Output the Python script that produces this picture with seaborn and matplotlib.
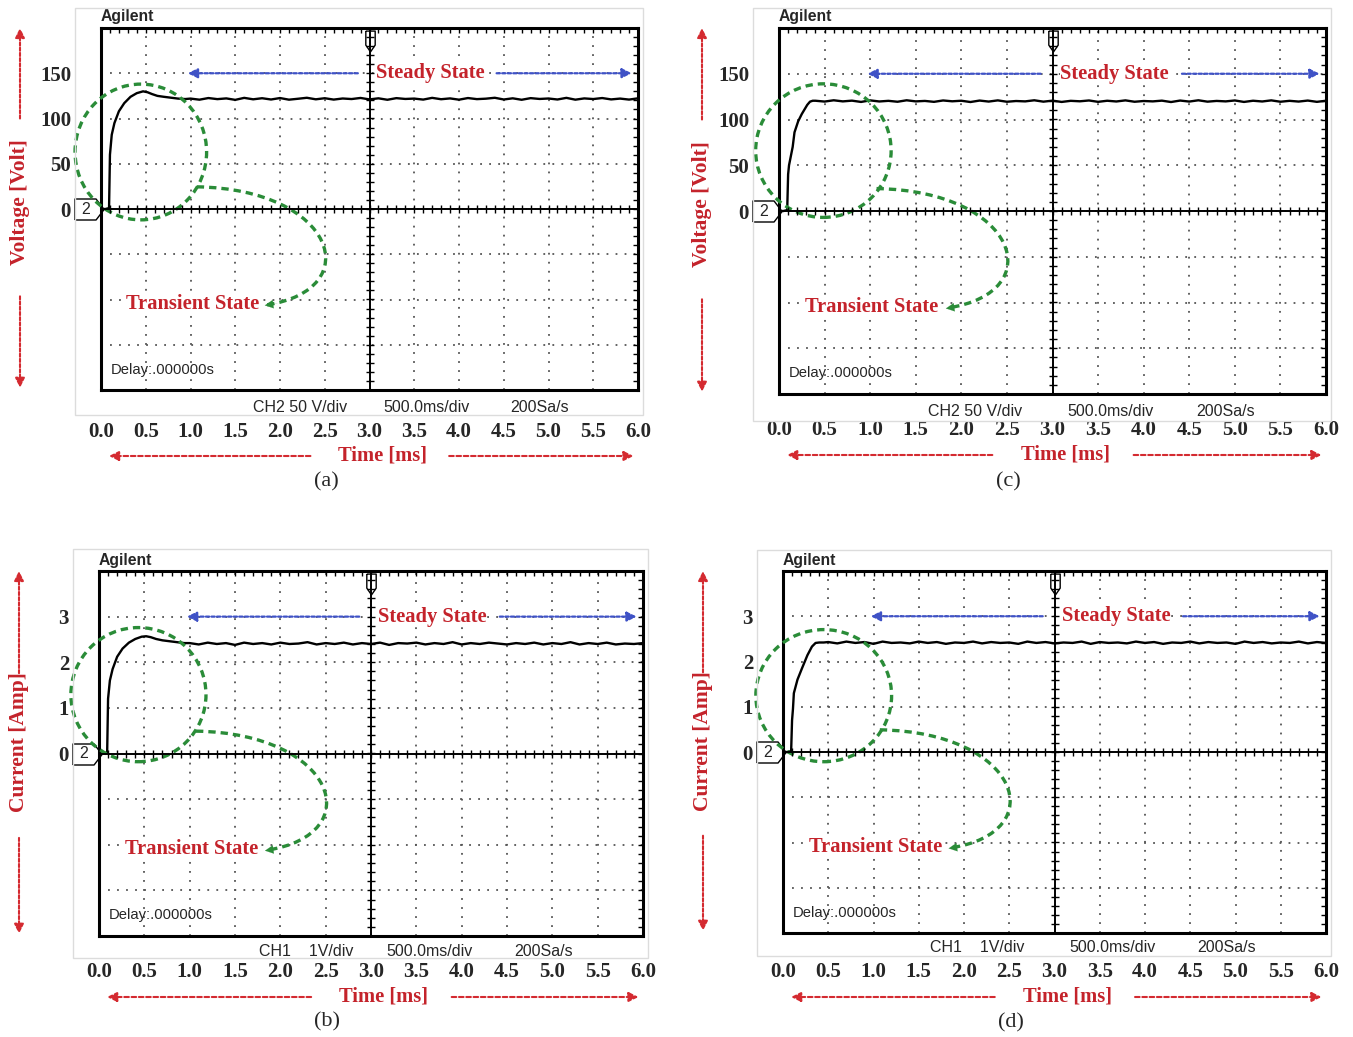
"""
Oscilloscope captures of the start-up transient: voltage (a, c) and current (b, d)
"""

import numpy as np
import pandas as pd
import matplotlib
matplotlib.use("Agg")
import matplotlib.pyplot as plt
import seaborn as sns
from matplotlib.patches import Ellipse, Rectangle, PathPatch
from matplotlib.path import Path
from matplotlib.transforms import offset_copy

W, H = 1353, 1037

time_ticks = [0.0, 0.5, 1.0, 1.5, 2.0, 2.5, 3.0, 3.5, 4.0, 4.5, 5.0, 5.5, 6.0]
time_labels = ['0.0', '0.5', '1.0', '1.5', '2.0', '2.5', '3.0', '3.5', '4.0',
               '4.5', '5.0', '5.5', '6.0']
volt_labels = ['', '', '', '0', '50', '100', '150']
amp_labels = ['', '', '', '0', '1', '2', '3']

# (a) voltage [V]
a_t = [0.00, 0.05, 0.09, 0.10, 0.12, 0.15, 0.20, 0.26, 0.33, 0.40, 0.47, 0.52,
       0.57, 0.63, 0.70, 0.78, 0.86, 0.94]
a_v = [0, 0, 1, 60, 82, 95, 108, 117, 124, 128, 130, 129, 127, 125, 124, 123, 122, 121.5]
a_steady_t0 = 1.0
a_steady = [122.0, 120.8, 122.6, 121.4, 122.2, 120.6, 122.8, 121.2, 122.4, 121.0,
            122.6, 120.8, 121.8, 122.9, 121.2, 122.4, 120.9, 122.1, 121.5, 122.7,
            121.1, 122.3, 120.7, 122.5, 121.6, 122.0, 120.9, 122.8, 121.3, 122.2,
            120.8, 122.6, 121.4, 121.9, 122.9, 121.0, 122.3, 120.7, 122.5, 121.6,
            122.1, 121.0, 122.8, 120.8, 122.2, 121.5, 122.6, 121.1, 122.0, 120.9,
            122.3]

# (b) current [A]
b_t = [0.00, 0.05, 0.09, 0.10, 0.12, 0.15, 0.20, 0.26, 0.33, 0.40, 0.47, 0.52,
       0.57, 0.63, 0.70, 0.78, 0.86, 0.94]
b_i = [0, 0, 0.02, 1.2, 1.6, 1.85, 2.12, 2.3, 2.43, 2.51, 2.56, 2.57, 2.55, 2.51,
       2.48, 2.46, 2.44, 2.42]
b_steady_t0 = 1.0
b_steady = [2.42, 2.39, 2.43, 2.40, 2.42, 2.38, 2.43, 2.40, 2.42, 2.39,
            2.43, 2.40, 2.41, 2.44, 2.39, 2.42, 2.40, 2.43, 2.39, 2.42,
            2.40, 2.43, 2.38, 2.42, 2.41, 2.43, 2.39, 2.42, 2.40, 2.44,
            2.39, 2.42, 2.40, 2.43, 2.41, 2.39, 2.42, 2.40, 2.43, 2.39,
            2.42, 2.40, 2.44, 2.39, 2.42, 2.40, 2.43, 2.39, 2.41, 2.40,
            2.42]

# (c) voltage [V]
c_t = [0.00, 0.05, 0.09, 0.10, 0.11, 0.13, 0.15, 0.17, 0.21, 0.25, 0.28, 0.31,
       0.34, 0.37]
c_v = [0, 0, 1, 40, 50, 60, 70, 86, 98, 106, 111, 116, 119.5, 120.5]
c_steady_t0 = 0.4
c_steady = [120.5, 119.6, 121.0, 119.8, 120.6, 119.2, 120.9, 119.7, 120.4, 119.4,
            121.0, 119.8, 120.3, 119.3, 120.8, 119.9, 120.5, 119.1, 120.7, 119.6,
            120.9, 119.4, 120.2, 119.8, 121.0, 119.5, 120.6, 119.2, 120.4, 119.9,
            120.8, 119.3, 120.5, 119.7, 120.9, 119.4, 120.2, 119.8, 120.6, 119.1,
            120.7, 119.6, 121.0, 119.5, 120.3, 119.8, 120.8, 119.2, 120.5, 119.7,
            120.9, 119.4, 120.4, 119.6, 120.7, 119.3, 120.5]

# (d) current [A]
d_t = [0.00, 0.05, 0.09, 0.10, 0.11, 0.12, 0.16, 0.21, 0.27, 0.32, 0.36, 0.40, 0.45]
d_i = [0, 0, 0.02, 0.7, 0.95, 1.3, 1.6, 1.85, 2.14, 2.33, 2.41, 2.42, 2.42]
d_steady_t0 = 0.5
d_steady = [2.43, 2.40, 2.44, 2.41, 2.43, 2.39, 2.44, 2.41, 2.42, 2.40,
            2.44, 2.41, 2.43, 2.39, 2.42, 2.41, 2.44, 2.40, 2.43, 2.41,
            2.42, 2.39, 2.44, 2.41, 2.43, 2.40, 2.42, 2.41, 2.44, 2.39,
            2.43, 2.41, 2.42, 2.40, 2.44, 2.41, 2.43, 2.39, 2.42, 2.41,
            2.44, 2.40, 2.43, 2.41, 2.42, 2.39, 2.44, 2.41, 2.43, 2.40,
            2.42, 2.41, 2.44, 2.40, 2.43, 2.41]

RED = '#c4232b'
RED_ARROW = '#d42a30'
BLUE = '#3f52c6'
GREEN = '#2a8c38'


def trace(t, vals, t0, steady):
    ts = list(t) + list(np.round(t0 + 0.1 * np.arange(len(steady)), 3))
    return pd.DataFrame({'t': ts, 'y': list(vals) + list(steady)})


panels = [
    dict(key='a', box=(101, 28, 638, 390), frame=(75, 8, 643, 415),
         df=trace(a_t, a_v, a_steady_t0, a_steady), per_div=50,
         ylabels=volt_labels, ylabel='Voltage [Volt]', ch='CH2 50 V/div',
         ch_x=2.22, ell=(0.445, 1.26, 0.735, 1.5), yarrows=(2.0, -1.93, 0.16),
         tick_dy=41, time_dy=66, cap_dy=92, scope_dy=18, ylab_dx=81),
    dict(key='c', box=(779, 28, 1326, 394), frame=(753, 8, 1331, 421),
         df=trace(c_t, c_v, c_steady_t0, c_steady), per_div=50,
         ylabels=volt_labels, ylabel='Voltage [Volt]', ch='CH2 50 V/div',
         ch_x=2.15, ell=(0.487, 1.32, 0.743, 1.46), yarrows=(2.0, -1.93, 0.16),
         tick_dy=35, time_dy=61, cap_dy=88, scope_dy=17, ylab_dx=77),
    dict(key='b', box=(99, 571, 643, 936), frame=(73, 549, 648, 958),
         df=trace(b_t, b_i, b_steady_t0, b_steady), per_div=1,
         ylabels=amp_labels, ylabel='Current [Amp]', ch='CH1    1V/div',
         ch_x=2.29, ell=(0.435, 1.29, 0.745, 1.47), yarrows=(1.76, -1.85, 0.24),
         tick_dy=35, time_dy=61, cap_dy=86, scope_dy=15, ylab_dx=80),
    dict(key='d', box=(783, 571, 1326, 933), frame=(757, 550, 1331, 956),
         df=trace(d_t, d_i, d_steady_t0, d_steady), per_div=1,
         ylabels=amp_labels, ylabel='Current [Amp]', ch='CH1    1V/div',
         ch_x=2.15, ell=(0.45, 1.245, 0.75, 1.46), yarrows=(1.76, -1.85, 0.24),
         tick_dy=38, time_dy=64, cap_dy=90, scope_dy=15, ylab_dx=80),
]

sns.set_theme(style='white')
plt.rcParams['font.family'] = ['Liberation Serif', 'DejaVu Serif']
SANS = ['Liberation Sans Narrow', 'Liberation Sans', 'DejaVu Sans']
SANS_B = ['Liberation Sans', 'DejaVu Sans']
LAB = 14.8

fig = plt.figure(figsize=(W / 100, H / 100), dpi=100)


def rect(x0, y0, x1, y1):
    return [x0 / W, 1 - y1 / H, (x1 - x0) / W, (y1 - y0) / H]


def dashed_arrow(ax, tr, x0, x1, color, ls, scale=14):
    ax.annotate('', xy=(x1, 0), xytext=(x0, 0), xycoords=tr, textcoords=tr,
                annotation_clip=False,
                arrowprops=dict(arrowstyle='-|>', color=color, lw=1.5, ls=ls,
                                mutation_scale=scale, shrinkA=0, shrinkB=0))


def draw_panel(p):
    x0, y0, x1, y1 = p['box']
    fx0, fy0, fx1, fy1 = p['frame']
    fig.add_artist(Rectangle((fx0 / W, 1 - fy1 / H), (fx1 - fx0) / W, (fy1 - fy0) / H,
                             transform=fig.transFigure, fill=False,
                             ec='#dcdcdc', lw=1.0))

    ax = fig.add_axes(rect(*p['box']))
    df = p['df'].assign(div=p['df']['y'] / p['per_div'])
    sns.lineplot(data=df, x='t', y='div', ax=ax, color='black', linewidth=1.7,
                 estimator=None, sort=False, zorder=5)
    ax.set_xlim(0, 6)
    ax.set_ylim(-4, 4)
    ax.set_xlabel('')
    ax.set_ylabel('')

    ax.set_xticks(time_ticks)
    ax.set_xticklabels(time_labels, fontsize=15, fontweight='bold')
    ax.set_yticks([-3, -2, -1, 0, 1, 2, 3])
    ax.set_yticklabels(p['ylabels'], fontsize=15, fontweight='bold')
    ax.set_xticks(np.arange(0, 6.01, 0.1), minor=True)
    ax.set_yticks(np.arange(-4, 4.01, 0.2), minor=True)
    ax.tick_params(which='both', direction='in', top=True, right=True,
                   length=3.5, width=1, color='black')
    ax.tick_params(axis='x', pad=(p['tick_dy'] - 9) * 0.72)
    ax.tick_params(axis='y', pad=30 * 0.72)
    ax.grid(True, which='major', ls=(0, (1, 4)), color='#555555', lw=1.3)
    for s in ax.spines.values():
        s.set_visible(True)
        s.set_color('black')
        s.set_linewidth(2.2)

    # centre cross of the graticule
    cx = fig.add_axes(rect(*p['box']))
    cx.set_xlim(0, 6)
    cx.set_ylim(-4, 4)
    cx.patch.set_alpha(0)
    cx.spines['top'].set_visible(False)
    cx.spines['right'].set_visible(False)
    cx.spines['left'].set_position(('data', 3.0))
    cx.spines['bottom'].set_position(('data', 0.0))
    for s in ('left', 'bottom'):
        cx.spines[s].set_color('black')
        cx.spines[s].set_linewidth(1.4)
    cx.set_xticks(np.arange(0.1, 6.0, 0.1))
    cx.set_yticks(np.arange(-3.8, 4.0, 0.2))
    cx.tick_params(direction='inout', length=6, width=1, color='black',
                   labelleft=False, labelbottom=False, left=True, bottom=True)
    cx.grid(False)

    # scope screen texts
    top_tr = offset_copy(ax.get_xaxis_transform(), fig=fig, y=11, units='dots')
    ax.text(0.0, 1.0, 'Agilent', transform=top_tr, family=SANS_B, fontsize=11.3,
            fontweight='bold', ha='left', va='center')
    ax.text(0.11, -3.55, 'Delay:.000000s', family=SANS, fontsize=10.6,
            ha='left', va='center', zorder=6)
    low_tr = offset_copy(ax.get_xaxis_transform(), fig=fig, y=-p['scope_dy'], units='dots')
    for xx, s in [(p['ch_x'], p['ch']), (3.64, '500.0ms/div'), (4.9, '200Sa/s')]:
        ax.text(xx, 0, s, transform=low_tr, family=SANS, fontsize=11.5,
                ha='center', va='center')

    # channel marker and trigger marker
    ch_tr = offset_copy(ax.get_yaxis_transform(), fig=fig, x=-12, units='dots')
    pent = Path([(-1, -0.72), (0.45, -0.72), (1, 0), (0.45, 0.72), (-1, 0.72), (-1, -0.72)])
    ax.plot([0], [0], transform=ch_tr, marker=pent, ms=21, mfc='white',
            mec='black', mew=1, clip_on=False, ls='none')
    ax.text(0, 0, '2', transform=offset_copy(ax.get_yaxis_transform(), fig=fig,
                                             x=-15, units='dots'),
            family=SANS_B, fontsize=11.5, ha='center', va='center')
    trig_tr = offset_copy(ax.get_xaxis_transform(), fig=fig, y=-13, units='dots')
    shield = Path([(-0.45, 1), (0.45, 1), (0.45, -0.35), (0, -1), (-0.45, -0.35), (-0.45, 1)])
    ax.plot([3.0], [1.0], transform=trig_tr, marker=shield, ms=15, mfc='white',
            mec='black', mew=1, clip_on=False, ls='none', zorder=7)

    # steady state annotation
    ax.text(3.68, 3.0, 'Steady State', color=RED, fontsize=LAB, fontweight='bold',
            ha='center', va='center', zorder=8,
            bbox=dict(fc='white', ec='none', pad=0.3))
    for xs, xe in [(2.87, 0.97), (4.42, 5.93)]:
        ax.annotate('', xy=(xe, 3.0), xytext=(xs, 3.0), annotation_clip=False,
                    arrowprops=dict(arrowstyle='-|>', color=BLUE, lw=1.6,
                                    ls=(0, (1.5, 1.0)), mutation_scale=14,
                                    shrinkA=0, shrinkB=0), zorder=8)

    # transient state annotation
    ecx, ecy, ew, eh = p['ell']
    ax.add_patch(Ellipse((ecx, ecy), 2 * ew, 2 * eh, fill=False, ec=GREEN, lw=2.4,
                         ls=(0, (2.2, 1.5)), clip_on=False, zorder=9))
    hook = Path([(1.07, 0.49), (2.62, 0.44), (2.98, -1.78), (1.85, -2.12)],
                [Path.MOVETO, Path.CURVE4, Path.CURVE4, Path.CURVE4])
    ax.add_patch(PathPatch(hook, fill=False, ec=GREEN, lw=2.4, ls=(0, (2.2, 1.5)),
                           zorder=9))
    ax.annotate('', xy=(1.83, -2.13), xytext=(1.97, -2.09), annotation_clip=False,
                arrowprops=dict(arrowstyle='-|>', color=GREEN, lw=0.1,
                                mutation_scale=15, shrinkA=0, shrinkB=0), zorder=9)
    ax.text(1.02, -2.1, 'Transient State', color=RED, fontsize=LAB,
            fontweight='bold', ha='center', va='center', zorder=8,
            bbox=dict(fc='white', ec='none', pad=0.2))

    # time axis title with arrows
    t_tr = offset_copy(ax.get_xaxis_transform(), fig=fig, y=-p['time_dy'], units='dots')
    ax.text(3.14, 0, 'Time [ms]', transform=t_tr, color=RED, fontsize=LAB,
            fontweight='bold', ha='center', va='center')
    for xs, xe in [(2.34, 0.09), (3.89, 5.95)]:
        dashed_arrow(ax, t_tr, xs, xe, RED_ARROW, (0, (2.2, 1.3)))
    c_tr = offset_copy(ax.get_xaxis_transform(), fig=fig, y=-p['cap_dy'], units='dots')
    ax.text(2.52, 0, f"({p['key']})", transform=c_tr, fontsize=16,
            ha='center', va='center')

    # vertical axis title with arrows
    up, down, mid = p['yarrows']
    y_tr = offset_copy(ax.get_yaxis_transform(), fig=fig, x=-p['ylab_dx'], units='dots')
    ax.text(0, mid, p['ylabel'], transform=y_tr, color=RED, fontsize=15.5,
            fontweight='bold', rotation=90, ha='center', va='center')
    for ys, ye in [(up, 4.0), (down, -3.95)]:
        ax.annotate('', xy=(0, ye), xytext=(0, ys), xycoords=y_tr, textcoords=y_tr,
                    annotation_clip=False,
                    arrowprops=dict(arrowstyle='-|>', color=RED_ARROW, lw=1.5,
                                    ls=(0, (1.5, 1.0)), mutation_scale=14,
                                    shrinkA=0, shrinkB=0))


for p in panels:
    draw_panel(p)

plt.savefig('out.png', dpi=100)
